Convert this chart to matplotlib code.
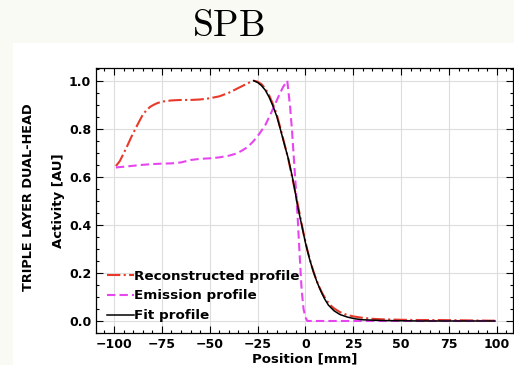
import matplotlib
matplotlib.use("Agg")
import matplotlib.pyplot as plt
from matplotlib.patches import Rectangle
from matplotlib.ticker import MultipleLocator

plt.rcParams['mathtext.fontset'] = 'cm'

# Profiles across the edge (position in mm, activity normalised)
recon_x = [-99, -97, -95, -93, -91, -89, -87, -85, -83, -81, -79, -77, -74, -70,
           -65, -60, -55, -50, -45, -40, -36, -33, -30, -28, -27, -25, -23, -21,
           -19, -17, -15, -13, -11, -9, -7, -5, -3, -1, 1, 3, 5, 7, 9, 11, 13,
           15, 18, 21, 25, 30, 35, 40, 50, 60, 70, 80, 90, 99]
recon_y = [0.645, 0.665, 0.697, 0.73, 0.765, 0.797, 0.828, 0.858, 0.878, 0.892,
           0.901, 0.908, 0.914, 0.918, 0.92, 0.92, 0.922, 0.927, 0.935, 0.95,
           0.966, 0.978, 0.99, 0.997, 1.0, 0.996, 0.986, 0.968, 0.94, 0.903,
           0.86, 0.80, 0.738, 0.675, 0.60, 0.525, 0.445, 0.365, 0.295, 0.236,
           0.186, 0.145, 0.112, 0.086, 0.066, 0.052, 0.037, 0.027, 0.019,
           0.013, 0.009, 0.007, 0.005, 0.004, 0.004, 0.003, 0.002, 0.001]

emis_x = [-99, -95, -90, -85, -80, -75, -70, -65, -60, -55, -50, -45, -40, -36,
          -33, -30, -27, -24, -21, -18, -16, -13.3, -11.6, -9.5, -8, -7, -6,
          -5, -4, -3, -2, -1, 0, 1, 3, 10, 20, 30, 50, 70, 99]
emis_y = [0.639, 0.642, 0.646, 0.65, 0.653, 0.655, 0.656, 0.66, 0.67, 0.675,
          0.677, 0.681, 0.688, 0.697, 0.71, 0.725, 0.75, 0.78, 0.815, 0.865,
          0.9, 0.948, 0.975, 1.0, 0.89, 0.79, 0.67, 0.55, 0.42, 0.27, 0.13,
          0.05, 0.015, 0.0, 0.0, 0.0, 0.0, 0.0, 0.0, 0.0, 0.0]

fit_x = [-27, -25, -23, -21, -19, -17, -15, -13, -11, -9, -7, -6, -4, -2, 0, 2,
         4, 6, 8, 10, 12, 15, 18, 22, 26, 30, 40, 50, 60, 70, 80, 90, 99]
fit_y = [1.0, 0.993, 0.98, 0.961, 0.932, 0.895, 0.852, 0.795, 0.735, 0.677,
         0.605, 0.565, 0.475, 0.40, 0.325, 0.262, 0.208, 0.163, 0.125, 0.092,
         0.066, 0.042, 0.027, 0.016, 0.009, 0.005, 0.002, 0.001, 0.0, 0.0,
         0.0, 0.0, 0.0]

labels = ["Reconstructed profile", "Emission profile", "Fit profile"]

fig = plt.figure(figsize=(5.14, 3.65), dpi=100, facecolor='#fafaf4')
fig.add_artist(Rectangle((13 / 514, 0), 1, (365 - 43) / 365,
                         transform=fig.transFigure, facecolor='white',
                         edgecolor='none', zorder=0))

ax = fig.add_axes([96 / 514, 32 / 365, 417 / 514, 265 / 365])
ax.plot(recon_x, recon_y, color='#e8392b', ls='-.', lw=1.5, label=labels[0])
ax.plot(emis_x, emis_y, color='#e645f0', ls=(0, (4, 2)), lw=1.5, label=labels[1])
ax.plot(fit_x, fit_y, color='black', ls='-', lw=1.1, label=labels[2])

ax.set_xlim(-109.4, 108.4)
ax.set_ylim(-0.05, 1.053)
ax.xaxis.set_major_locator(MultipleLocator(25))
ax.xaxis.set_minor_locator(MultipleLocator(5))
ax.yaxis.set_major_locator(MultipleLocator(0.2))
ax.yaxis.set_minor_locator(MultipleLocator(0.05))
ax.tick_params(which='both', direction='in', top=True, right=True, width=0.8)
ax.tick_params(which='major', length=5, labelsize=9)
ax.tick_params(which='minor', length=2.5)
for lab in ax.get_xticklabels() + ax.get_yticklabels():
    lab.set_fontweight('bold')
ax.grid(True, which='major', color='#dddddd', lw=0.8)
ax.set_axisbelow(True)
for sp in ax.spines.values():
    sp.set_linewidth(0.9)

ax.set_xlabel("Position [mm]", fontsize=9.5, fontweight='bold', labelpad=1)
ax.set_ylabel("Activity [AU]", fontsize=9.5, fontweight='bold', labelpad=3)
fig.text(29 / 514, 1 - 197 / 365, "TRIPLE LAYER DUAL-HEAD", rotation=90,
         ha='center', va='center', fontsize=9.3, fontweight='bold')

ax.legend(loc='lower left', frameon=False, handlelength=2.0,
          handletextpad=0.05, labelspacing=0.5, borderaxespad=0.4,
          prop={'weight': 'bold', 'size': 9.7})

fig.text(228 / 514, 1 - 36 / 365, r"$\mathrm{SPB}$", ha='center',
         va='baseline', fontsize=27)

fig.savefig("out.png", dpi=100, facecolor=fig.get_facecolor())
